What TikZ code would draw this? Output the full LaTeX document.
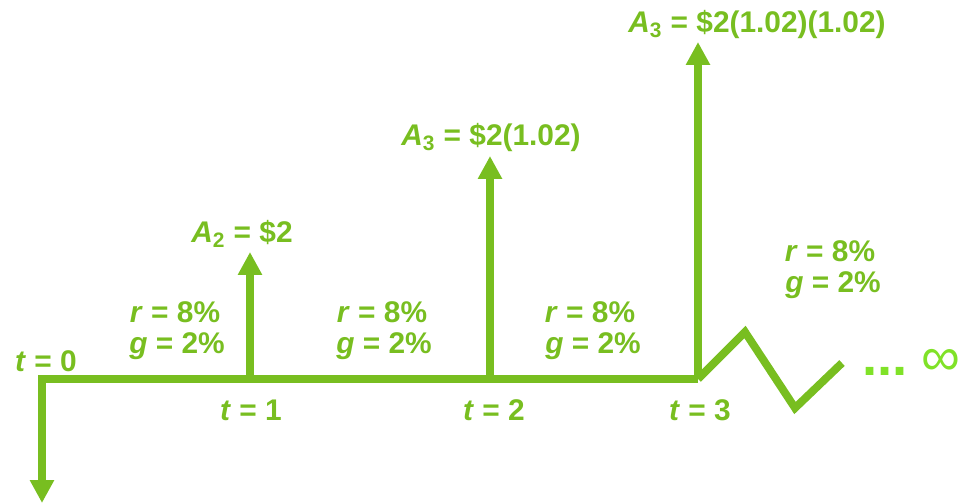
\documentclass[tikz,border=0pt]{standalone}
\usepackage{fontspec}
\setmainfont{Liberation Sans}
\usepackage{tikz}
\usetikzlibrary{positioning, calc, arrows.meta}
\definecolor{cfgreen}{RGB}{120,190,32}
\definecolor{cflime}{RGB}{128,226,40}

\begin{document}
\begin{tikzpicture}[
    x=0.02cm, y=-0.02cm,
    font=\fontsize{17}{20}\selectfont\bfseries,
    lbl/.style={text=cfgreen, inner sep=0pt, anchor=base},
    axis/.style={draw=cfgreen, line width=4.5pt, line join=miter},
    arrow/.style={axis, -{Triangle[width=13pt, length=13pt]}}
]

\useasboundingbox (0,0) rectangle (961,503);

% Points on the time line
\coordinate (o) at (42,379);
\coordinate (p1) at (250,379);
\coordinate (p2) at (490,379);
\coordinate (p3) at (698,379);
\coordinate (down) at (42,503);

% Tips of the cash flow arrows
\coordinate (a1) at (250,252);
\coordinate (a2) at (490,156);
\coordinate (a3) at (698,42);

% Zigzag towards infinity
\coordinate (z1) at (745,332);
\coordinate (z2) at (795,408);
\coordinate (z3) at (842,363);

% Time line with the initial outflow
\draw[arrow] (p3) -- (o) -- (down);

% Cash flows
\draw[arrow] (p1) -- (a1);
\draw[arrow] (p2) -- (a2);
\draw[arrow] (p3) -- (a3);

\draw[axis] (p3) -- (z1) -- (z2) -- (z3);

% Time labels
\node[lbl] (t0) at (46,372) {\textit{t} = 0};
\node[lbl] (t1) at (251,420) {\textit{t} = 1};
\node[lbl] (t2) at (494,420) {\textit{t} = 2};
\node[lbl] (t3) at (700,420) {\textit{t} = 3};

% Cash flow labels
\node[lbl] (A1) at (242,243) {\textit{A}\textsubscript{2} = \$2};
\node[lbl] (A2) at (491,146) {\textit{A}\textsubscript{3} = \$2(1.02)};
\node[lbl] (A3) at (757,33) {\textit{A}\textsubscript{3} = \$2(1.02)(1.02)};

% Rates
\node[lbl] (r1) at (175,323) {\textit{r} = 8\%};
\node[lbl] (g1) at (177,354) {\textit{g} = 2\%};
\node[lbl] (r2) at (382,323) {\textit{r} = 8\%};
\node[lbl] (g2) at (384,354) {\textit{g} = 2\%};
\node[lbl] (r3) at (590,323) {\textit{r} = 8\%};
\node[lbl] (g3) at (593,354) {\textit{g} = 2\%};
\node[lbl] (r4) at (830,262) {\textit{r} = 8\%};
\node[lbl] (g4) at (833,293) {\textit{g} = 2\%};

% Perpetuity
\node[lbl, anchor=base west, text=cflime, font=\fontsize{31}{33}\selectfont\bfseries] (inf) at (862,376) {...\hspace{0.25em}{\mdseries ∞}};

\end{tikzpicture}
\end{document}
